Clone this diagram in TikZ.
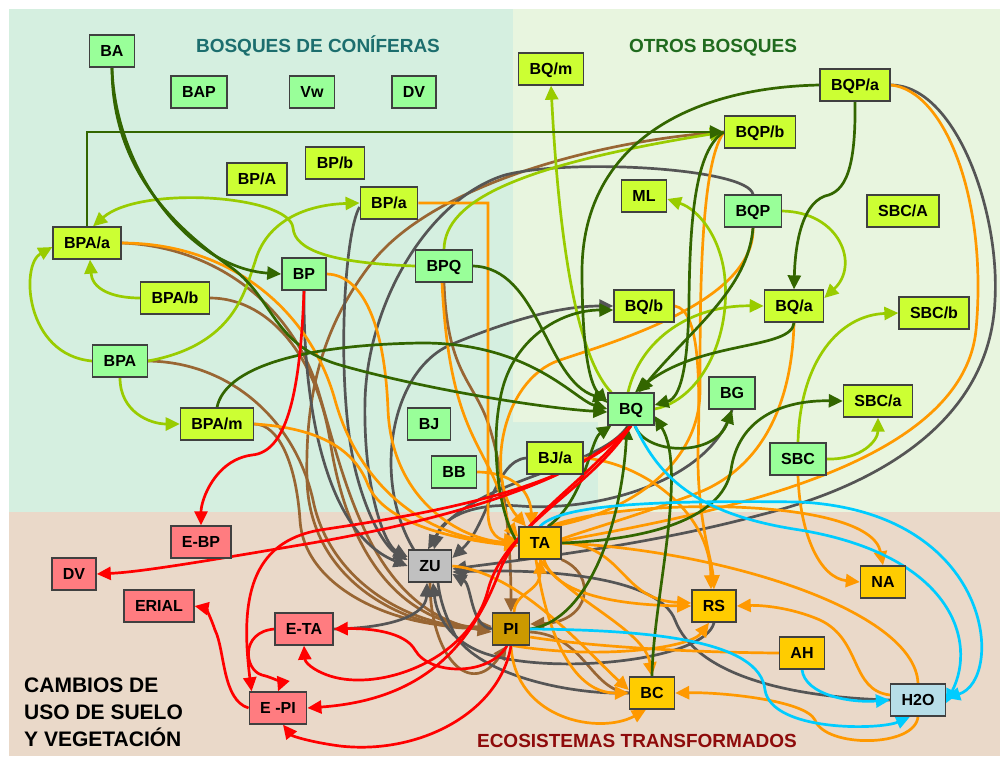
\documentclass[tikz,border=0pt]{standalone}
\usepackage{fontspec}
\setmainfont{Liberation Sans}
\usetikzlibrary{arrows.meta}
\pgfdeclarelayer{back}
\pgfdeclarelayer{edges}
\pgfsetlayers{back,edges,main}
\definecolor{bgcon}{HTML}{D5EFE0}
\definecolor{bgotr}{HTML}{E8F5DF}
\definecolor{bgtra}{HTML}{EAD9C9}
\definecolor{nlg}{HTML}{99FF99}
\definecolor{nyg}{HTML}{CCFF33}
\definecolor{nred}{HTML}{FF7C80}
\definecolor{ngray}{HTML}{C0C0C0}
\definecolor{ngold}{HTML}{FFCC00}
\definecolor{ndgold}{HTML}{CC9900}
\definecolor{nblue}{HTML}{B7DEE8}
\definecolor{cdg}{HTML}{336600}
\definecolor{clg}{HTML}{99CC00}
\definecolor{cbr}{HTML}{996633}
\definecolor{cor}{HTML}{FF9900}
\definecolor{cgr}{HTML}{555555}
\definecolor{cre}{HTML}{FF0000}
\definecolor{ccy}{HTML}{00CCFF}
\definecolor{tteal}{HTML}{1C6E6E}
\definecolor{tgreen}{HTML}{206B1E}
\definecolor{tred}{HTML}{8E0B0B}
\begin{document}
\begin{tikzpicture}[x=1pt,y=-1pt,
  nd/.style={draw=black!75, line width=1.3pt, font=\bfseries\fontsize{16}{18}\selectfont, minimum height=32pt, inner xsep=11pt, inner ysep=0pt, text height=11.5pt, text depth=0pt},
  fg/.style={nd, fill=nlg}, fy/.style={nd, fill=nyg}, fr/.style={nd, fill=nred},
  fz/.style={nd, fill=ngray}, fo/.style={nd, fill=ngold}, fp/.style={nd, fill=ndgold}, fb/.style={nd, fill=nblue},
  ln/.style={line width=2.7pt},
  ar/.style={-{Triangle[length=14pt,width=13pt]}},
  edg/.style={ln, draw=cdg}, elg/.style={ln, draw=clg}, ebr/.style={ln, draw=cbr},
  eor/.style={ln, draw=cor}, egr/.style={ln, draw=cgr}, ere/.style={ln, draw=cre}, ecy/.style={ln, draw=ccy},
  ttl/.style={font=\bfseries\fontsize{19}{22}\selectfont, text height=13.6pt, text depth=0pt, inner sep=0pt}
]
\useasboundingbox (0,0) rectangle (1000,756);
\begin{pgfonlayer}{back}
\fill[white] (0,0) rectangle (1000,756);
\fill[bgcon] (9,9) -- (513,9) -- (513,422) -- (598,422) -- (598,512) -- (9,512) -- cycle;
\fill[bgotr] (513,9) -- (1000,9) -- (1000,512) -- (598,512) -- (598,422) -- (513,422) -- cycle;
\fill[bgtra] (9,512) rectangle (1000,756);
\end{pgfonlayer}

% titles
\node[ttl, text=tteal] (t1) at (318,46) {BOSQUES DE CONÍFERAS};
\node[ttl, text=tgreen] (t2) at (713,46) {OTROS BOSQUES};
\node[ttl, text=tred] (t3) at (637,741) {ECOSISTEMAS TRANSFORMADOS};
\node[font=\bfseries\fontsize{21}{27}\selectfont, align=left, anchor=north west, inner sep=0pt] (t4) at (24,678) {CAMBIOS DE\\USO DE SUELO\\Y VEGETACIÓN};

% nodes
\node[fg] (bA) at (112,51) {BA};
\node[fg] (bAP) at (199,92) {BAP};
\node[fg] (vw) at (312,92) {Vw};
\node[fg] (dvt) at (414,92) {DV};
\node[fy] (bpcA) at (257,179) {BP/A};
\node[fy] (bpcb) at (335,163) {BP/b};
\node[fy] (bpca) at (389,203) {BP/a};
\node[fy] (bpaa) at (87,243) {BPA/a};
\node[fg] (bp) at (304,274) {BP};
\node[fg] (bpq) at (444,266) {BPQ};
\node[fy] (bpab) at (175,298) {BPA/b};
\node[fg] (bpa) at (120,361) {BPA};
\node[fy] (bpam) at (217,424) {BPA/m};
\node[fg] (bj) at (429,424) {BJ};
\node[fg] (bb) at (454,472) {BB};
\node[fy] (bja) at (555,458) {BJ/a};
\node[fy] (bqm) at (551,69) {BQ/m};
\node[fy] (bqpa) at (855,85) {BQP/a};
\node[fy] (bqpb) at (760,132) {BQP/b};
\node[fy] (ml) at (644,196) {ML};
\node[fg] (bqp) at (753,211) {BQP};
\node[fy] (sbcA) at (903,211) {SBC/A};
\node[fy] (bqb) at (644,306) {BQ/b};
\node[fy] (bqa) at (794,306) {BQ/a};
\node[fy] (sbcb) at (934,313) {SBC/b};
\node[fg] (bq) at (631,409) {BQ};
\node[fg] (bg) at (732,393) {BG};
\node[fy] (sbca) at (878,401) {SBC/a};
\node[fg] (sbc) at (798,459) {SBC};
\node[fr] (ebp) at (201,542) {E-BP};
\node[fr] (dvb) at (74,574) {DV};
\node[fr] (erial) at (159,606) {ERIAL};
\node[fr] (eta) at (304,629) {E-TA};
\node[fr] (epi) at (278,708) {E -PI};
\node[fz] (zu) at (430,566) {ZU};
\node[fp] (npi) at (511,629) {PI};
\node[fo] (ta) at (540,543) {TA};
\node[fo] (rs) at (714,606) {RS};
\node[fo] (na) at (883,582) {NA};
\node[fo] (ah) at (802,653) {AH};
\node[fo] (bc) at (652,693) {BC};
\node[fb] (hto) at (918,700) {H2O};

\begin{pgfonlayer}{edges}
% brown
\draw[ebr,ar] (bpaa.east) .. controls (210,246) and (290,300) .. (318,390) .. controls (345,480) and (370,610) .. ([yshift=-3pt]npi.west);
\draw[ebr,ar] (bpab.east) .. controls (265,298) and (315,350) .. (330,440) .. controls (345,540) and (390,620) .. (npi.west);
\draw[ebr,ar] (bpa.east) .. controls (230,362) and (295,420) .. (313,500) .. controls (328,575) and (400,625) .. (npi.west);
\draw[ebr,ar] (bpam.east) .. controls (278,424) and (296,462) .. (300,520) .. controls (304,590) and (400,630) .. ([yshift=3pt]npi.west);
\draw[ebr,ar] (bqpb.west) .. controls (600,140) and (430,185) .. (370,265) .. controls (320,330) and (305,400) .. (307,480) .. controls (310,590) and (420,632) .. ([yshift=2pt]npi.west);
\draw[ebr,ar] (bpq.south) .. controls (447,370) and (472,380) .. (487,420) .. controls (505,470) and (511,550) .. (npi.north);
\draw[ebr,ar] (zu.south) .. controls (430,655) and (470,700) .. ([xshift=-4pt]npi.south);
\draw[ebr,ar] (ta.south east) .. controls (598,575) and (590,622) .. ([yshift=5pt]npi.east);
\draw[ebr] (bc.west) .. controls (590,690) and (585,635) .. ([yshift=-3pt]npi.east);
% gray
\draw[egr,ar] ([yshift=-4pt]bpca.west) .. controls (343,235) and (335,400) .. (358,480) .. controls (372,530) and (390,550) .. ([yshift=6pt]zu.west);
\draw[egr,ar] (bp.south) .. controls (303,420) and (330,535) .. (zu.west);
\draw[egr,ar] (bqp.north) .. controls (748,168) and (570,158) .. (505,175) .. controls (430,198) and (368,300) .. (365,400) .. controls (363,490) and (385,545) .. ([yshift=9pt]zu.west);
\draw[egr,ar] (bqpa.east) .. controls (955,85) and (1000,210) .. (995,300) .. controls (990,420) and (880,485) .. (760,515) .. controls (650,545) and (520,560) .. ([yshift=-3pt]zu.east);
\draw[egr,ar] (bja.west) .. controls (495,460) and (488,525) .. ([yshift=8pt]zu.east);
\draw[egr,ar] ([xshift=-3pt]bq.south) .. controls (600,470) and (470,478) .. ([xshift=-2pt]zu.north);
\draw[egr,ar] (bg.south) .. controls (712,480) and (600,512) .. (520,506) .. controls (470,502) and (440,520) .. ([xshift=4pt]zu.north);
\draw[egr,ar] (eta.east) .. controls (392,628) and (426,615) .. ([xshift=-3pt]zu.south);
\draw[egr,ar] (npi.west) .. controls (470,626) and (472,585) .. ([yshift=-8pt]zu.east);
\draw[egr,ar] (rs.south) .. controls (705,660) and (560,675) .. (490,655) .. controls (455,645) and (437,620) .. ([xshift=3pt]zu.south);
\draw[egr] (bc.west) .. controls (570,695) and (480,675) .. (455,635) .. controls (445,615) and (440,600) .. ([xshift=8pt]zu.south);
\draw[egr,ar] (hto.west) .. controls (780,697) and (695,672) .. (675,620) .. controls (660,580) and (560,568) .. ([yshift=-6pt]zu.east);
\draw[egr,ar] ([xshift=6pt]zu.north west) .. controls (372,480) and (390,372) .. (450,345) .. controls (510,320) and (560,306) .. (bqb.west);
% orange
\draw[eor,ar] (bpca.east) -- (488,203) -- (488,512) .. controls (488,535) and (500,540) .. ([yshift=3pt]ta.west);
\draw[eor,ar] (bpaa.east) .. controls (230,243) and (310,310) .. (335,400) .. controls (360,490) and (430,540) .. (ta.west);
\draw[eor,ar] (bp.east) .. controls (365,275) and (385,330) .. (388,410) .. controls (392,500) and (460,540) .. (ta.west);
\draw[eor,ar] (bpam.east) .. controls (320,428) and (355,450) .. (368,485) .. controls (385,525) and (460,540) .. ([yshift=-3pt]ta.west);
\draw[eor,ar] (bb.east) .. controls (505,472) and (530,485) .. ([xshift=-8pt]ta.north);
\draw[eor,ar] ([xshift=-2pt]bpq.south) .. controls (448,400) and (470,430) .. (490,470) .. controls (505,500) and (508,525) .. ([yshift=6pt]ta.west);
\draw[eor,ar] (bqp.south) .. controls (755,300) and (620,340) .. (560,360) .. controls (500,380) and (485,480) .. ([xshift=-14pt]ta.north);
\draw[eor] (bqpb.west) .. controls (700,165) and (700,300) .. (700,390) .. controls (700,470) and (620,515) .. ([xshift=12pt]ta.north);
\draw[eor,ar] (bqb.east) .. controls (700,310) and (700,380) .. (698,450) .. controls (697,520) and (712,560) .. (rs.north);
\draw[eor,ar] (bja.east) .. controls (640,462) and (710,510) .. ([xshift=-3pt]rs.north);
\draw[eor] (bqa.south) .. controls (792,400) and (765,465) .. (700,492) .. controls (640,515) and (580,532) .. ([yshift=4pt]ta.east);
\draw[eor] (bqpa.east) .. controls (945,90) and (988,200) .. (976,330) .. controls (962,470) and (700,515) .. ([yshift=2pt]ta.east);
\draw[eor,ar] (sbc.south) .. controls (800,535) and (820,578) .. (na.west);
\draw[eor,ar] ([xshift=10pt]ta.north) .. controls (620,498) and (870,495) .. (na.north);
\draw[eor] (ah.west) .. controls (650,652) and (560,642) .. ([yshift=-8pt]npi.east);
\draw[eor,ar] ([xshift=2pt]npi.south) .. controls (600,660) and (690,648) .. ([xshift=-5pt]rs.south);
\draw[eor,ar] (npi.south) .. controls (515,720) and (600,735) .. ([xshift=-6pt]bc.south);
\draw[eor,ar] ([xshift=3pt]npi.north) .. controls (515,592) and (540,592) .. (ta.south);
\draw[eor,ar] ([xshift=4pt]ta.south) .. controls (555,595) and (620,605) .. (rs.west);
\draw[eor,ar] (ta.east) .. controls (625,545) and (620,600) .. ([yshift=3pt]rs.west);
\draw[eor,ar] ([xshift=-4pt]ta.south) .. controls (548,640) and (575,693) .. (bc.west);
\draw[eor,ar] (ta.south) .. controls (570,600) and (645,630) .. (bc.north);
\draw[eor,ar] ([yshift=5pt]hto.west) .. controls (850,690) and (862,640) .. (820,620) .. controls (790,607) and (760,605) .. (rs.east);
\draw[eor,ar] (hto.south) .. controls (915,748) and (825,748) .. (815,720) .. controls (805,700) and (720,692) .. (bc.east);
\draw[eor] (ta.east) .. controls (720,550) and (915,610) .. (hto.north);
\draw[eor,ar] (zu.east) .. controls (520,572) and (585,650) .. ([yshift=3pt]bc.west);
% light green
\draw[elg,ar] (bpa.west) .. controls (25,355) and (20,265) .. ([yshift=-4pt]bpaa.west);
\draw[elg,ar] (bpab.west) .. controls (110,298) and (92,288) .. ([xshift=3pt]bpaa.south);
\draw[elg,ar] (bpa.south) .. controls (120,412) and (150,424) .. (bpam.west);
\draw[elg,ar] (bpa.east) .. controls (235,345) and (245,290) .. (255,262) .. controls (265,225) and (300,205) .. (bpca.west);
\draw[elg,ar] (bpq.west) .. controls (330,263) and (295,250) .. (293,228) .. controls (290,195) and (140,185) .. ([xshift=6pt]bpaa.north);
\draw[elg,ar] (bpq.north) .. controls (445,200) and (520,165) .. (bqpb.west);
\draw[elg,ar] ([xshift=4pt]bq.north west) .. controls (580,360) and (560,260) .. (bqm.south);
\draw[elg,ar] (bq.east) .. controls (700,400) and (730,340) .. (725,280) .. controls (722,240) and (700,210) .. ([yshift=-3pt]ml.east);
\draw[elg,ar] (bqp.east) .. controls (840,212) and (860,265) .. ([yshift=8pt]bqa.east);
\draw[elg,ar] ([xshift=-3pt]bq.north) .. controls (640,340) and (690,305) .. (bqa.west);
\draw[elg,ar] (sbc.north) .. controls (800,360) and (840,315) .. (sbcb.west);
\draw[elg,ar] (sbc.east) .. controls (862,460) and (878,440) .. (sbca.south);
% dark green
\draw[edg,ar] (bA.south) .. controls (115,170) and (190,268) .. (bp.west);
\draw[edg,ar] (bA.south) .. controls (112,170) and (175,228) .. (232,268) .. controls (275,300) and (272,345) .. (340,365) .. controls (420,388) and (540,408) .. ([yshift=-3pt]bq.west);
\draw[edg,ar] (bpaa.north) |- (bqpb.west);
\draw[edg,ar] (bqpa.west) .. controls (680,88) and (583,150) .. (582,270) .. controls (582,340) and (588,382) .. ([yshift=6pt]bq.west);
\draw[edg,ar] (bqpa.south) .. controls (856,170) and (845,192) .. (825,196) .. controls (800,205) and (795,250) .. (bqa.north);
\draw[edg,ar] (bqa.south) .. controls (792,350) and (700,340) .. ([xshift=4pt]bq.north);
\draw[edg,ar] (bqpb.west) .. controls (695,150) and (690,220) .. (689,300) .. controls (688,370) and (680,398) .. ([yshift=4pt]bq.east);
\draw[edg,ar] (bqp.south) .. controls (748,290) and (690,330) .. ([xshift=8pt]bq.north);
\draw[edg,ar] (bpq.east) .. controls (540,268) and (545,380) .. ([yshift=9pt]bq.west);
\draw[edg,ar] (bpam.north) .. controls (225,368) and (300,345) .. (420,343) .. controls (530,342) and (575,400) .. (bq.west);
\draw[edg,ar] (ta.west) .. controls (500,520) and (490,450) .. (500,400) .. controls (510,340) and (560,310) .. ([yshift=-4pt]bqb.west);
\draw[edg,ar] ([xshift=8pt]ta.north) .. controls (585,500) and (590,440) .. ([xshift=4pt]bq.south west);
\draw[edg,ar] (npi.east) .. controls (590,620) and (622,520) .. ([xshift=-4pt]bq.south);
\draw[edg,ar] (bc.north) .. controls (653,600) and (688,470) .. ([yshift=-7pt]bq.east);
\draw[edg,ar] ([xshift=4pt]bq.south) .. controls (645,455) and (715,458) .. (bg.south);
\draw[edg,ar] (ta.east) .. controls (640,540) and (722,522) .. (731,470) .. controls (738,420) and (780,400) .. (sbca.west);
% red
\draw[ere,ar] (bp.south) .. controls (300,400) and (285,452) .. (252,455) .. controls (215,460) and (201,500) .. (ebp.north);
\draw[ere,ar] (bq.south) .. controls (580,480) and (450,520) .. (300,545) .. controls (200,562) and (140,572) .. (dvb.east);
\draw[ere,ar] (bq.south) .. controls (575,490) and (420,515) .. (320,530) .. controls (250,542) and (240,600) .. ([xshift=3pt]epi.north west);
\draw[ere,ar] (bq.south) .. controls (585,482) and (520,520) .. (500,570) .. controls (470,650) and (420,700) .. (epi.east);
\draw[ere,ar] (bq.south) .. controls (590,490) and (505,525) .. (488,590) .. controls (470,660) and (380,692) .. (330,676) .. controls (312,670) and (305,662) .. (eta.south);
\draw[ere,ar] ([xshift=-4pt]npi.south) .. controls (490,676) and (430,676) .. (415,650) .. controls (405,632) and (370,628) .. (eta.east);
\draw[ere,ar] (eta.west) .. controls (240,632) and (244,670) .. (262,675) .. controls (275,678) and (281,684) .. (epi.north);
\draw[ere,ar] (epi.west) .. controls (222,700) and (225,650) .. (215,630) .. controls (210,615) and (205,608) .. (erial.east);
\draw[ere,ar] (npi.south) .. controls (500,712) and (420,755) .. (340,746) .. controls (310,742) and (292,736) .. ([xshift=5pt]epi.south);
% cyan
\draw[ecy,ar] (ta.north) .. controls (560,505) and (650,500) .. (800,502) .. controls (995,512) and (1005,680) .. ([yshift=2pt]hto.east);
\draw[ecy,ar] ([xshift=4pt]bq.south) .. controls (660,480) and (700,515) .. (800,530) .. controls (950,555) and (978,640) .. ([yshift=-3pt]hto.east);
\draw[ecy,ar] (npi.east) .. controls (650,630) and (760,640) .. (765,690) .. controls (772,732) and (880,730) .. ([xshift=-8pt]hto.south);
\draw[ecy,ar] (ah.south) .. controls (805,695) and (850,703) .. (hto.west);
\end{pgfonlayer}
\end{tikzpicture}
\end{document}
